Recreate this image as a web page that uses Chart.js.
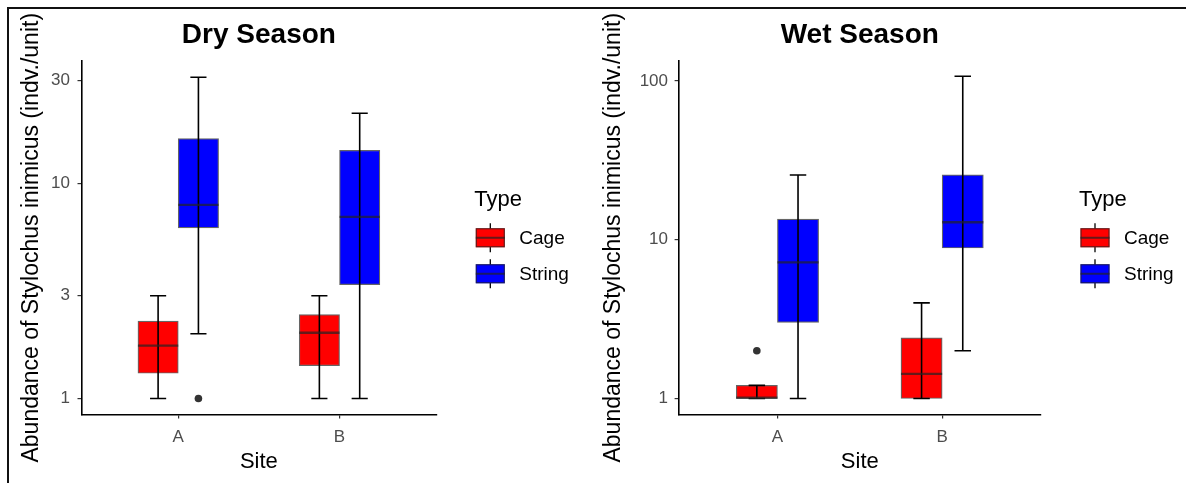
<!DOCTYPE html>
<html>
<head>
<meta charset="utf-8">
<script src="https://cdn.jsdelivr.net/npm/chart.js@4.4.1/dist/chart.umd.min.js"></script>
<style>
    html, body { margin: 0; padding: 0; background: #fff; }
    body { width: 1186px; height: 483px; position: relative; overflow: hidden; }
    #frame { position: absolute; left: 7px; top: 7px; width: 1179px; height: 476px;
             border-top: 2px solid #111; border-left: 2px solid #111; box-sizing: border-box; }
    canvas { position: absolute; top: 0; }
    #dry { left: 0; }
    #wet { left: 590px; }
</style>
</head>
<body>
<div id="frame"></div>
<canvas id="dry" width="593" height="483"></canvas>
<canvas id="wet" width="596" height="483"></canvas>
<script>
const sites = ['A', 'B'];
const types = ['Cage', 'String'];
const typeColors = ['#FF0000', '#0000FF'];

// una caja por sitio: [bigote inferior, Q1, mediana, Q3, bigote superior]
const dryCage = [[1, 1.31, 1.76, 2.29, 3], [1, 1.42, 2.02, 2.45, 3]];
const dryString = [[2, 6.2, 7.93, 16.1, 31], [1, 3.38, 6.97, 14.2, 21.1]];
const wetCage = [[1, 1, 1.01, 1.21, 1.21], [1, 1, 1.43, 2.41, 4]];
const wetString = [[1, 3.02, 7.2, 13.5, 25.6], [2, 8.87, 12.9, 25.6, 107]];

// valores atipicos por sitio
const dryCageOut = [[], []];
const dryStringOut = [[1], []];
const wetCageOut = [[2], []];
const wetStringOut = [[], []];

const dryTicks = [1, 3, 10, 30];
const wetTicks = [1, 10, 100];

const yTitle = 'Abundance of Stylochus inimicus (indv./unit)';
const xTitle = 'Site';

Chart.defaults.font.family = '"Liberation Sans", Arial, sans-serif';

const boxLine = 'rgba(35, 35, 35, 0.7)';

// bigotes, medianas, atipicos y leyenda tipo ggplot
const boxExtras = {
    id: 'boxExtras',
    afterDatasetsDraw(chart) {
        const ctx = chart.ctx;
        const xs = chart.scales.x;
        const ys = chart.scales.y;
        const capHalf = xs.getPixelForValue(1.05) - xs.getPixelForValue(1);
        chart.data.datasets.forEach((ds, di) => {
            const meta = chart.getDatasetMeta(di);
            ds.stats.forEach((s, i) => {
                const bar = meta.data[i];
                const cx = bar.x;
                const half = bar.width / 2;
                const yLo = ys.getPixelForValue(s[0]);
                const yHi = ys.getPixelForValue(s[4]);
                const yMed = ys.getPixelForValue(s[2]);
                ctx.save();
                ctx.strokeStyle = '#000';
                ctx.lineWidth = 1.6;
                ctx.beginPath();
                ctx.moveTo(cx, yLo); ctx.lineTo(cx, yHi);
                ctx.moveTo(cx - capHalf, yLo); ctx.lineTo(cx + capHalf, yLo);
                ctx.moveTo(cx - capHalf, yHi); ctx.lineTo(cx + capHalf, yHi);
                ctx.stroke();
                ctx.strokeStyle = boxLine;
                ctx.lineWidth = 2.4;
                ctx.beginPath();
                ctx.moveTo(cx - half, yMed); ctx.lineTo(cx + half, yMed);
                ctx.stroke();
                ctx.fillStyle = '#333';
                ds.outs[i].forEach(v => {
                    ctx.beginPath();
                    ctx.arc(cx, ys.getPixelForValue(v), 3.8, 0, Math.PI * 2);
                    ctx.fill();
                });
                ctx.restore();
            });
        });
    },
    afterDraw(chart) {
        const ctx = chart.ctx;
        const area = chart.chartArea;
        const left = area.right + 38;
        const mid = (area.top + area.bottom) / 2;
        ctx.save();
        ctx.fillStyle = '#000';
        ctx.textBaseline = 'middle';
        ctx.font = '22px "Liberation Sans", Arial, sans-serif';
        ctx.fillText('Type', left, mid - 38);
        types.forEach((t, i) => {
            const cy = mid + i * 36;
            const bx = left + 1.5;
            const bw = 29;
            const bh = 19;
            const cx = bx + bw / 2;
            ctx.strokeStyle = '#000';
            ctx.lineWidth = 1.3;
            ctx.beginPath();
            ctx.moveTo(cx, cy - bh / 2 - 5); ctx.lineTo(cx, cy + bh / 2 + 5);
            ctx.stroke();
            ctx.fillStyle = typeColors[i];
            ctx.fillRect(bx, cy - bh / 2, bw, bh);
            ctx.strokeStyle = boxLine;
            ctx.lineWidth = 1.2;
            ctx.strokeRect(bx + 0.5, cy - bh / 2 + 0.5, bw - 1, bh - 1);
            ctx.lineWidth = 2;
            ctx.beginPath();
            ctx.moveTo(bx, cy); ctx.lineTo(bx + bw, cy);
            ctx.stroke();
            ctx.fillStyle = '#000';
            ctx.font = '19px "Liberation Sans", Arial, sans-serif';
            ctx.fillText(t, left + 45, cy + 1.5);
        });
        ctx.restore();
    }
};

function boxDataset(label, stats, outs, color, shift) {
    return {
        label: label,
        stats: stats,
        outs: outs,
        data: stats.map((s, i) => ({ x: i + 1 + shift, y: [s[1], s[3]] })),
        backgroundColor: color,
        borderColor: boxLine,
        borderWidth: 1.2,
        borderSkipped: false,
        grouped: false,
        categoryPercentage: 1,
        barPercentage: 1
    };
}

function makeChart(id, title, cage, string, cageOut, stringOut, ticks, yMin, yMax, lay) {
    return new Chart(document.getElementById(id), {
        type: 'bar',
        data: {
            datasets: [
                boxDataset(types[0], cage, cageOut, typeColors[0], -0.125),
                boxDataset(types[1], string, stringOut, typeColors[1], 0.125)
            ]
        },
        options: {
            responsive: false,
            animation: false,
            events: [],
            layout: { padding: { top: 0, left: 0, bottom: 0, right: lay.right } },
            plugins: {
                legend: { display: false },
                tooltip: { enabled: false },
                title: {
                    display: true,
                    text: title,
                    fullSize: false,
                    color: '#000',
                    font: { size: 28, weight: 'bold' },
                    padding: { top: 18, bottom: 9.4 }
                }
            },
            scales: {
                x: {
                    type: 'linear',
                    min: 0.4,
                    max: 2.6,
                    bounds: 'data',
                    offset: false,
                    afterBuildTicks: s => { s.ticks = sites.map((_, i) => ({ value: i + 1 })); },
                    afterFit: s => { s.height = 68.5; },
                    ticks: {
                        color: '#4D4D4D',
                        font: { size: 17 },
                        padding: 8.6,
                        maxRotation: 0,
                        callback: v => sites[v - 1]
                    },
                    grid: { offset: false, drawOnChartArea: false, drawTicks: true, tickLength: 4, color: '#333', lineWidth: 1.2 },
                    border: { display: true, color: '#000', width: 1.6 },
                    title: { display: true, text: xTitle, color: '#000', font: { size: 22 }, padding: { top: 0, bottom: 8 } }
                },
                y: {
                    type: 'logarithmic',
                    min: yMin,
                    max: yMax,
                    bounds: 'data',
                    afterBuildTicks: s => { s.ticks = ticks.map(v => ({ value: v })); },
                    afterFit: s => { s.width = lay.yWidth; },
                    ticks: {
                        color: '#4D4D4D',
                        font: { size: 17 },
                        padding: lay.tickPad,
                        callback: v => String(v)
                    },
                    grid: { drawOnChartArea: false, drawTicks: true, tickLength: 4, color: '#333', lineWidth: 1.2 },
                    border: { display: true, color: '#000', width: 1.6 },
                    title: { display: true, text: yTitle, color: '#000', font: { size: 23 }, padding: { top: lay.titlePad, bottom: 0 } }
                }
            }
        },
        plugins: [boxExtras]
    });
}

makeChart('dry', 'Dry Season', dryCage, dryString, dryCageOut, dryStringOut, dryTicks, 0.843, 36.9,
    { right: 156.7, yWidth: 81.5, tickPad: 7.5, titlePad: 17.5 });
makeChart('wet', 'Wet Season', wetCage, wetString, wetCageOut, wetStringOut, wetTicks, 0.793, 133.6,
    { right: 145, yWidth: 88.6, tickPad: 6.6, titlePad: 10 });
</script>
</body>
</html>
